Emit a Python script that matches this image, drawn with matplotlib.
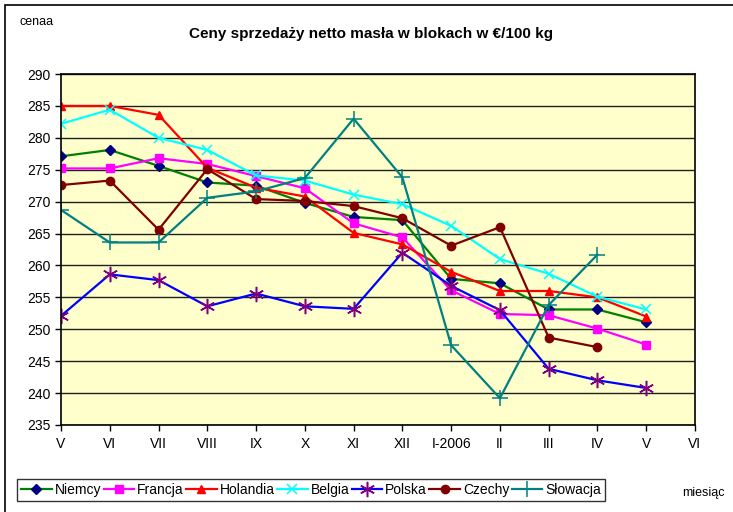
import matplotlib
matplotlib.use('Agg')
import matplotlib.pyplot as plt
from matplotlib.patches import Rectangle

plt.rcParams['font.family'] = ['Liberation Sans Narrow', 'Liberation Sans', 'DejaVu Sans']

months = ['V', 'VI', 'VII', 'VIII', 'IX', 'X', 'XI', 'XII', 'I-2006', 'II', 'III', 'IV', 'V', 'VI']

niemcy   = [277.1, 278.1, 275.6, 273.0, 272.5, 269.8, 267.6, 267.1, 257.9, 257.2, 253.1, 253.1, 251.1]
francja  = [275.2, 275.2, 276.8, 275.9, 274.0, 272.1, 266.6, 264.4, 256.1, 252.4, 252.2, 250.1, 247.6]
holandia = [285.0, 285.0, 283.6, 275.3, 272.2, 270.8, 265.1, 263.3, 259.0, 256.0, 256.0, 255.0, 252.0]
belgia   = [282.2, 284.4, 280.0, 278.1, 274.1, 273.3, 271.1, 269.6, 266.2, 261.0, 258.7, 255.1, 253.1]
polska   = [252.1, 258.6, 257.7, 253.6, 255.6, 253.6, 253.2, 262.0, 256.8, 253.0, 243.8, 242.0, 240.8]
czechy   = [272.6, 273.3, 265.6, 275.1, 270.4, 270.1, 269.3, 267.4, 263.1, 266.0, 248.7, 247.2]
slowacja = [268.7, 263.6, 263.6, 270.6, 271.6, 273.7, 283.0, 273.8, 247.5, 239.2, 253.8, 261.7]

series = [
    ('Niemcy', niemcy, '#008000', 'D', '#000080', 5),
    ('Francja', francja, '#FF00FF', 's', '#FF00FF', 6),
    ('Holandia', holandia, '#FF0000', '^', '#FF0000', 6),
    ('Belgia', belgia, '#00FFFF', 'x', '#00FFFF', 7),
    ('Polska', polska, '#0000FF', (6, 2, 0), '#800080', 11),
    ('Czechy', czechy, '#800000', 'o', '#800000', 6),
    ('Słowacja', slowacja, '#008080', '+', '#008080', 12),
]

fig = plt.figure(figsize=(7.33, 5.12), dpi=100)
fig.patches.append(Rectangle((5 / 733, -0.1), 1.2, 1 - 5 / 512 + 0.1, transform=fig.transFigure,
                             fill=False, edgecolor='black', linewidth=1.2))

ax = fig.add_axes([61 / 733, 1 - 425 / 512, 634 / 733, 351 / 512])
ax.set_facecolor('#FFFFCC')
ax.set_xlim(0, 13)
ax.set_ylim(235, 290)
ax.set_yticks(range(235, 291, 5))
ax.set_xticks(range(len(months)))
ax.set_xticklabels(months)
ax.tick_params(axis='both', labelsize=10, direction='out', length=4, width=1)
ax.tick_params(axis='x', pad=5)
ax.grid(axis='y', color='#202020', linewidth=1)
ax.set_axisbelow(True)
for sp in ax.spines.values():
    sp.set_color('black')
    sp.set_linewidth(1.2)

handles = []
for name, vals, col, mk, mcol, ms in series:
    h, = ax.plot(range(len(vals)), vals, color=col, linewidth=1.6, marker=mk,
                 markersize=ms, markerfacecolor=mcol, markeredgecolor=mcol,
                 markeredgewidth=1.1 if mk in ('x', '+', (6, 2, 0)) else 1, label=name)
    handles.append(h)

fig.text(371 / 733, 1 - 34 / 512, 'Ceny sprzedaży netto masła w blokach w €/100 kg',
         ha='center', va='center', fontsize=11, fontweight='bold')
fig.text(20 / 733, 1 - 22 / 512, 'cenaa', ha='left', va='center', fontsize=9)
fig.text(682 / 733, 1 - 493 / 512, 'miesiąc', ha='left', va='center', fontsize=9)

leg = fig.legend(handles=handles, loc='lower left', ncol=7,
                 bbox_to_anchor=(17 / 733, 1 - 501 / 512, 588 / 733, 28 / 512),
                 mode='expand', fontsize=10, frameon=True, fancybox=False,
                 handlelength=2.2, handletextpad=0.2, columnspacing=0.6,
                 borderpad=0.3, borderaxespad=0)
leg.get_frame().set_edgecolor('black')
leg.get_frame().set_linewidth(1)

fig.savefig('out.png', dpi=100)
